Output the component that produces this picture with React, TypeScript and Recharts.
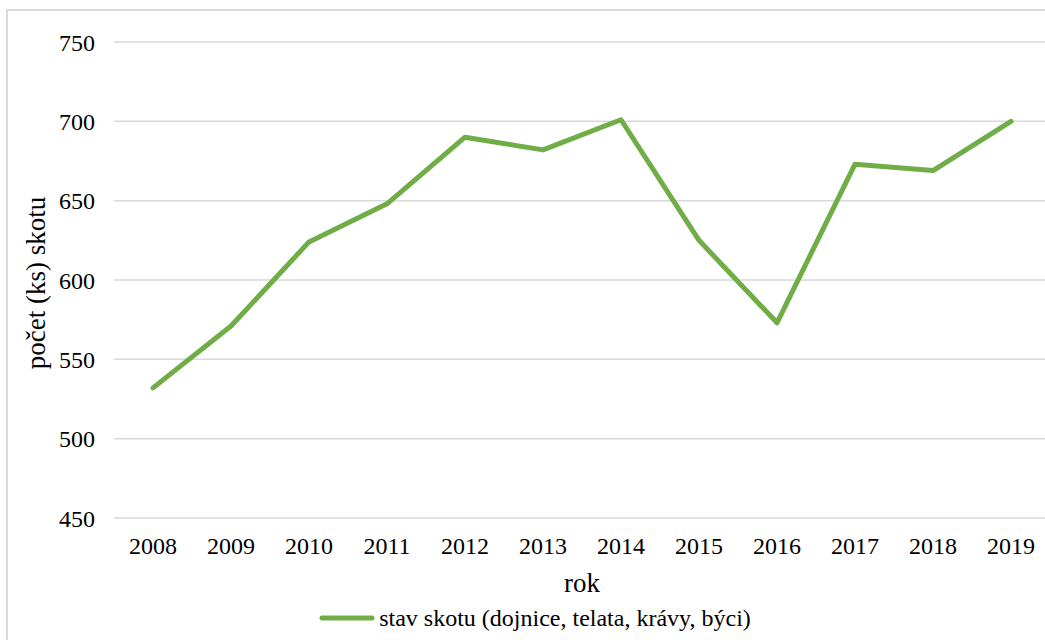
import React from 'react';
import { LineChart, Line, XAxis, YAxis, CartesianGrid, Legend, Label } from 'recharts';

const years = ['2008', '2009', '2010', '2011', '2012', '2013', '2014', '2015', '2016', '2017', '2018', '2019'];
const cattle = [532, 571, 624, 648, 690, 682, 701, 625, 573, 673, 669, 700];
const yTicks = [450, 500, 550, 600, 650, 700, 750];
const seriesName = 'stav skotu (dojnice, telata, krávy, býci)';
const xTitle = 'rok';
const yTitle = 'počet (ks) skotu';

const data = years.map((y, i) => ({ year: y, value: cattle[i] }));

const FONT = "'Liberation Serif', 'Times New Roman', Tinos, 'DejaVu Serif', serif";
const GREEN = '#70AD47';

const LegendContent = () => (
  <div style={{ display: 'flex', justifyContent: 'center', alignItems: 'center', fontFamily: FONT, fontSize: 24, lineHeight: '28px', color: '#000' }}>
    <svg width={56} height={8} style={{ display: 'block' }}>
      <line x1={3} y1={4} x2={53} y2={4} stroke={GREEN} strokeWidth={5} strokeLinecap="round" />
    </svg>
    <span style={{ marginLeft: 4, whiteSpace: 'nowrap' }}>{seriesName}</span>
  </div>
);

export default function App() {
  return (
    <div style={{ position: 'fixed', left: 0, top: 0, width: 1045, height: 640, overflow: 'hidden', background: '#fff', fontFamily: FONT }}>
      <div style={{ position: 'absolute', left: 6, top: 9, width: 1064, height: 660, border: '2px solid #d9d9d9', boxSizing: 'border-box' }} />
      <div style={{ position: 'absolute', left: 0, top: 0, fontFamily: FONT }}>
        <LineChart width={1070} height={660} data={data} margin={{ top: 42, right: 20, bottom: 52, left: 0 }} style={{ fontFamily: FONT }}>
          <CartesianGrid vertical={false} stroke="#d9d9d9" strokeWidth={1.5} />
          <XAxis
            dataKey="year"
            height={90}
            axisLine={false}
            tickLine={false}
            tickSize={0}
            tickMargin={19}
            padding={{ left: 39, right: 39 }}
            tick={{ fill: '#000', fontSize: 24, style: { fontFamily: FONT } }}
            interval={0}
          >
            <Label
              content={(props: any) => {
                const vb = props.viewBox;
                const cx = vb.x + vb.width / 2;
                return (
                  <text x={cx} y={vb.y + 74} textAnchor="middle" style={{ fontFamily: FONT }} fontSize={27} fill="#000">
                    {xTitle}
                  </text>
                );
              }}
            />
          </XAxis>
          <YAxis
            width={114}
            domain={[450, 750]}
            ticks={yTicks}
            axisLine={false}
            tickLine={false}
            tickSize={0}
            tickMargin={19}
            tick={{ fill: '#000', fontSize: 24, style: { fontFamily: FONT } }}
          >
            <Label
              content={(props: any) => {
                const vb = props.viewBox;
                const x = vb.x + 45;
                const y = vb.y + vb.height / 2 + 3;
                return (
                  <text x={x} y={y} transform={`rotate(-90 ${x} ${y})`} textAnchor="middle" style={{ fontFamily: FONT }} fontSize={27} fill="#000">
                    {yTitle}
                  </text>
                );
              }}
            />
          </YAxis>
          <Legend
            layout="horizontal"
            verticalAlign="middle"
            align="center"
            content={<LegendContent />}
            wrapperStyle={{ top: 604, left: 0, width: 1070 }}
          />
          <Line
            type="linear"
            dataKey="value"
            name={seriesName}
            stroke={GREEN}
            strokeWidth={5}
            strokeLinecap="round"
            strokeLinejoin="round"
            dot={false}
            activeDot={false}
            isAnimationActive={false}
          />
        </LineChart>
      </div>
    </div>
  );
}
